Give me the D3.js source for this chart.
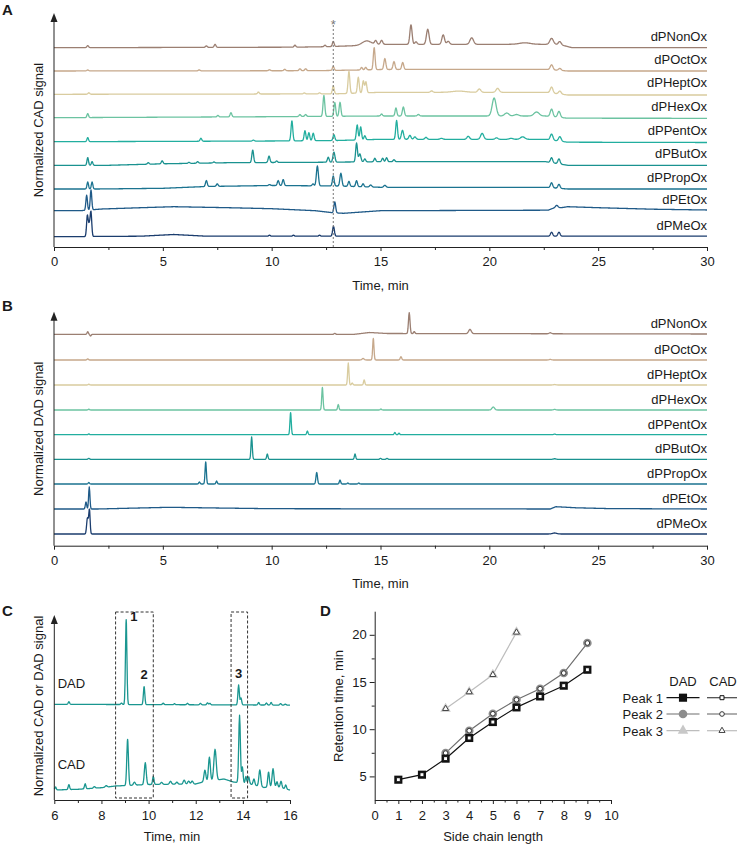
<!DOCTYPE html>
<html><head><meta charset="utf-8">
<script src="https://cdn.jsdelivr.net/npm/d3@7"></script>
<style>
body{margin:0;background:#fff;}
text{font-family:Arial,"Liberation Sans",sans-serif;fill:#1a1a1a;}
</style>
</head><body>
<svg id="chart" width="739" height="846"></svg>
<script>
// ---------------- DATA ----------------
const samples = ["dPMeOx","dPEtOx","dPPropOx","dPButOx","dPPentOx","dPHexOx","dPHeptOx","dPOctOx","dPNonOx"];
const sampleColors = ["#1b3d6e","#1f5a88","#1b7390","#1a9290","#22ae9f","#6cc3a1","#d9cc9f","#c6a88b","#9b7f72"];
const timeTicksAB = [0,5,10,15,20,25,30];
const timeMinorAB = [2.5,7.5,12.5,17.5,22.5,27.5];
const markerTime = 12.83;

// trace offsets (signal units above axis)
const cadOffset = [10.3,36.3,58,81.7,105.3,129.3,152.7,176,199.3];
const dadOffset = [11.7,36.7,61.7,86.4,111,135.7,160.7,185.7,211.4];

// CAD baseline drift knots [time, level]
const cadDriftMeOx = [[0,0],[4,0.5],[5.5,2.2],[7,0.5],[30,0.5]];
const cadDriftEtOx = [[0,0],[1.2,0],[2.2,1.7],[4,3],[5.5,4],[8,3],[10,2],[12,0],[12.8,-2],[13.3,-2.6],[15,0],[22.7,0.5],[23.05,3.5],[23.3,3],[23.6,4],[25,3],[27.5,1.5],[30,0.7]];
const cadDriftPropOx = [[0,0],[2,0],[5,0.7],[7,2.5],[10,3.5],[13,3],[15,1.7],[22.6,1.7],[23.6,0],[30,0]];
const cadDriftButOx = [[0,0],[2.5,0],[5,1.5],[8,2.6],[12,3],[15,3.6],[22.6,3.6],[23.6,0],[30,0]];
const cadDriftPentOx = [[0,0],[5,0.3],[10,0.7],[13,1.2],[15,2.4],[22.6,2.4],[23.6,-0.5],[30,-0.8]];
const cadDriftHexOx = [[0,0],[5,0.5],[10,1],[15,1.7],[22.6,1.7],[23.6,-0.5],[30,-0.6]];
const cadDriftHeptOx = [[0,0],[10,0.3],[13,0.5],[15,2],[22.6,2],[23.6,-0.7],[30,-0.7]];
const cadDriftOctOx = [[0,0],[12,0.3],[14,1],[15,1.5],[22.6,1.7],[23.6,0],[30,0]];
const cadDriftNonOx = [[0,0],[11,0.5],[12.5,1],[13.8,2],[14.8,3.4],[23.2,3.4],[23.8,0],[30,0]];

// CAD peaks [time, height, width]
const cadPeaksMeOx = [[1.53,19,0.035],[1.7,22,0.035],[1.62,12,0.05],[9.9,1,0.04],[11.0,1,0.04],[12.2,1,0.04],[12.84,10,0.04],[22.86,4,0.05],[23.2,4,0.05]];
const cadPeaksEtOx = [[1.5,15,0.035],[1.7,20,0.035],[12.9,11,0.04],[23.1,2,0.05]];
const cadPeaksPropOx = [[1.55,7,0.035],[1.75,7,0.035],[7.0,6,0.04],[7.5,2.5,0.04],[9.9,1,0.04],[10.3,5,0.04],[10.53,6,0.04],[11.9,2,0.04],[12.1,20,0.045],[12.83,10,0.04],[13.18,13,0.045],[13.55,5,0.04],[13.9,6,0.04],[14.2,3,0.04],[14.55,2,0.05],[15.2,2,0.05],[22.86,5,0.05],[23.2,4,0.05]];
const cadPeaksButOx = [[1.55,7.7,0.035],[1.75,3.7,0.035],[4.33,1.5,0.04],[4.97,3,0.04],[6.2,1,0.04],[6.6,1.5,0.04],[7.35,1,0.04],[9.13,12.5,0.04],[9.88,6.5,0.04],[10.23,1.5,0.04],[12.6,5,0.04],[12.86,10,0.045],[13.9,19,0.04],[14.05,8,0.05],[14.28,3,0.04],[14.74,3.5,0.04],[15.1,3.5,0.04],[15.28,4,0.04],[15.62,2,0.04],[22.86,5,0.05],[23.2,5,0.05]];
const cadPeaksPentOx = [[1.55,4,0.035],[6.75,3,0.04],[9.16,1,0.04],[10.93,20,0.04],[11.53,10,0.04],[11.71,8,0.04],[11.91,7.5,0.04],[12.86,6,0.04],[13.93,15,0.04],[14.09,13,0.04],[14.28,4,0.04],[15.74,19,0.04],[16.01,9,0.05],[16.35,4,0.05],[16.58,2.5,0.05],[17.09,2,0.05],[17.8,1,0.06],[19.03,3,0.06],[19.67,6,0.07],[20.33,1.5,0.06],[21.0,1,0.08],[21.53,2.5,0.1],[22.86,6,0.06],[23.24,4.5,0.06]];
const cadPeaksHexOx = [[1.55,4,0.035],[7.53,1.5,0.04],[8.13,4.2,0.04],[11.3,2,0.04],[11.56,2,0.04],[12.4,21,0.04],[12.9,14,0.04],[13.14,14,0.04],[15.05,2,0.04],[15.71,8,0.04],[16.05,9,0.045],[16.74,1.5,0.05],[20.22,18,0.09],[20.8,3,0.1],[21.25,1.5,0.1],[22.17,4,0.12],[22.86,7.5,0.06],[23.2,6,0.06]];
const cadPeaksHeptOx = [[1.6,1.5,0.04],[9.39,2,0.04],[11.5,1,0.04],[12.2,1,0.04],[12.83,8,0.04],[13.55,22,0.04],[13.98,16,0.04],[14.21,12,0.04],[14.33,11,0.04],[17.35,1.5,0.05],[18.6,1.2,0.3],[19.54,3.3,0.07],[20.38,4,0.07],[22.86,6,0.06],[23.24,3,0.06]];
const cadPeaksOctOx = [[1.55,1,0.04],[6.67,1,0.04],[9.9,1,0.04],[10.6,1.5,0.04],[11.3,2,0.04],[11.56,2,0.04],[12.83,4,0.04],[14.13,2.5,0.04],[14.32,2.5,0.04],[14.71,22,0.04],[15.2,11,0.045],[15.62,8,0.045],[16.02,7,0.045],[22.86,5,0.06],[23.24,2,0.06]];
const cadPeaksNonOx = [[1.55,2,0.04],[7.0,1.5,0.04],[7.4,3,0.04],[11.07,2,0.04],[12.45,1.5,0.04],[12.83,5,0.04],[14.36,4,0.2],[14.78,3.5,0.05],[15.05,4,0.05],[16.4,19.5,0.05],[16.63,2.5,0.05],[17.17,15,0.06],[17.88,9.5,0.06],[18.11,3,0.06],[19.19,6.5,0.08],[21.63,1.5,0.25],[22.86,6,0.08],[23.24,3,0.06]];

// DAD baseline drift knots
const dadDriftFlat = [[0,0],[30,0]];
const dadDriftEtOx = [[0,0],[2,0],[3.5,0.8],[5.3,1.7],[7.5,1],[10,0.3],[22.8,0],[23.05,2.3],[24,1.2],[25.5,0.4],[30,0]];
const dadDriftNonOx = [[0,0],[13.8,0],[14.5,1.8],[15.3,0.8],[30,0.3]];

// DAD peaks
const dadPeaksMeOx = [[1.53,13,0.035],[1.63,22,0.03],[1.58,6,0.04],[23.0,1,0.1]];
const dadPeaksEtOx = [[1.47,7,0.03],[1.62,22,0.03]];
const dadPeaksPropOx = [[1.6,1.5,0.03],[6.68,2,0.03],[6.97,22,0.03],[7.47,3,0.03],[12.07,11.5,0.035],[13.14,4,0.03],[13.5,1,0.03],[14.0,1,0.03]];
const dadPeaksButOx = [[1.6,1,0.03],[9.08,22.5,0.03],[9.8,5.3,0.03],[13.83,5.3,0.03],[15.0,1,0.03],[15.3,1,0.03],[23.0,0.6,0.05]];
const dadPeaksPentOx = [[1.6,0.8,0.03],[10.87,22,0.03],[11.64,3.7,0.03],[15.66,2.3,0.03],[15.85,1.5,0.03],[23.0,0.6,0.05]];
const dadPeaksHexOx = [[1.6,0.8,0.03],[12.33,22.5,0.03],[13.06,5.5,0.03],[15.02,1,0.03],[20.18,3,0.06],[23.0,0.6,0.05]];
const dadPeaksHeptOx = [[1.6,0.8,0.03],[13.52,22,0.03],[13.7,2,0.03],[14.25,5,0.03],[23.0,0.5,0.05]];
const dadPeaksOctOx = [[1.55,1.2,0.03],[14.2,1.5,0.05],[14.67,21.5,0.03],[15.94,3.3,0.035],[22.8,0.6,0.05]];
const dadPeaksNonOx = [[1.55,2.6,0.03],[1.68,-1.7,0.03],[12.9,1,0.03],[16.32,21,0.035],[16.55,2,0.03],[19.11,4.3,0.06],[22.8,1,0.05]];

// Panel C (dPButOx, 6-16 min)
const timeTicksC = [6,8,10,12,14,16];
const timeMinorC = [7,9,11,13,15];
const zoomDadOffset = 95.7;
const zoomDadDrift = [[6,0],[16,-0.8]];
const zoomDadPeaks = [[6.62,2.6,0.03],[8.85,1.5,0.03],[9.05,85,0.03],[9.81,18,0.03],[10.62,1.5,0.03],[11.1,1,0.03],[11.65,1.5,0.03],[12.2,1.5,0.03],[12.5,2,0.03],[12.6,1.5,0.03],[13.82,20,0.03],[13.92,7,0.03],[14.67,2.5,0.03],[15.0,2,0.03],[15.2,2.5,0.03],[15.6,1.5,0.03],[15.8,1,0.03]];
const zoomCadOffset = 0;
const zoomCadDrift = [[6,10],[7,10.7],[8,12.3],[8.6,14],[10,15.5],[12,16],[12.3,18],[12.9,20],[13.2,21],[13.6,18],[14.3,16],[14.9,12.5],[15.4,13.5],[16,10]];
const zoomCadPeaks = [[6.05,3,0.03],[6.62,5,0.03],[7.31,5,0.03],[7.7,1.5,0.04],[8.2,1.5,0.04],[9.11,46,0.035],[9.4,3,0.04],[9.86,22,0.04],[10.2,8,0.03],[10.55,2,0.04],[10.93,3,0.04],[11.2,2,0.04],[11.51,4,0.04],[11.7,3,0.04],[11.85,3,0.04],[12.39,11.5,0.04],[12.58,24,0.04],[12.82,31,0.05],[13.86,67.5,0.035],[13.98,16,0.03],[14.13,7,0.03],[14.25,7,0.03],[14.47,6,0.035],[14.72,16.5,0.04],[15.09,15,0.035],[15.28,18,0.04],[15.45,5,0.03],[15.62,6.5,0.035],[15.82,4,0.03]];
const peakBoxes = [[8.6,10.2],[13.5,14.2]];
const peakLabels = [["1",9.05,88],["2",9.81,21],["3",13.82,22]];

// Panel D
const chainLength = [1,2,3,4,5,6,7,8,9];
const rtPeak1Dad = [4.65,5.18,6.88,9.07,10.76,12.31,13.47,14.61,16.3];
const rtPeak1Cad = [4.65,5.18,6.88,9.07,10.76,12.31,13.47,14.61,16.3];
const chainLength2 = [3,4,5,6,7,8,9];
const rtPeak2Dad = [7.47,9.84,11.64,13.12,14.29,15.95,19.13];
const rtPeak2Cad = [7.47,9.84,11.64,13.12,14.29,15.95,19.13];
const chainLength3 = [3,4,5,6];
const rtPeak3Dad = [12.17,13.94,15.77,20.26];
const rtPeak3Cad = [12.17,13.94,15.77,20.26];
const chainTicks = [0,1,2,3,4,5,6,7,8,9,10];
const chainMinor = [0.5,1.5,2.5,3.5,4.5,5.5,6.5,7.5,8.5,9.5];
const rtTicks = [5,10,15,20];
const rtMinor = [7.5,12.5,17.5];
const legendRows = ["Peak 1","Peak 2","Peak 3"];
const legendHeads = ["DAD","CAD"];

const cadDrifts = [cadDriftMeOx,cadDriftEtOx,cadDriftPropOx,cadDriftButOx,cadDriftPentOx,cadDriftHexOx,cadDriftHeptOx,cadDriftOctOx,cadDriftNonOx];
const cadPeaks = [cadPeaksMeOx,cadPeaksEtOx,cadPeaksPropOx,cadPeaksButOx,cadPeaksPentOx,cadPeaksHexOx,cadPeaksHeptOx,cadPeaksOctOx,cadPeaksNonOx];
const dadDrifts = [dadDriftFlat,dadDriftEtOx,dadDriftFlat,dadDriftFlat,dadDriftFlat,dadDriftFlat,dadDriftFlat,dadDriftFlat,dadDriftNonOx];
const dadPeaks = [dadPeaksMeOx,dadPeaksEtOx,dadPeaksPropOx,dadPeaksButOx,dadPeaksPentOx,dadPeaksHexOx,dadPeaksHeptOx,dadPeaksOctOx,dadPeaksNonOx];

// ---------------- HELPERS ----------------
function buildTrace(drift, peaks, t0, t1){
  const step = 0.02;
  const ts = d3.range(t0, t1 + step/2, step).concat(peaks.map(p=>p[0])).filter(t=>t>=t0&&t<=t1).sort(d3.ascending);
  const base = d3.scaleLinear().domain(drift.map(d=>d[0])).range(drift.map(d=>d[1])).clamp(true);
  return ts.map(t => [t, base(t) + d3.sum(peaks, p => p[1]*Math.exp(-0.5*Math.pow((t-p[0])/p[2],2)))]);
}
const svg = d3.select("#chart");
const AX = "#222";

function styleAxis(g){
  g.select(".domain").attr("stroke",AX).attr("stroke-width",1);
  g.selectAll(".tick line").attr("stroke",AX);
  g.selectAll(".tick text").attr("font-size",13).attr("fill","#1a1a1a").attr("font-family","Arial, 'Liberation Sans', sans-serif");
}
function arrowAxis(x, yBottom, yTop){
  svg.append("line").attr("x1",x).attr("x2",x).attr("y1",yBottom).attr("y2",yTop+6).attr("stroke",AX).attr("stroke-width",1);
  svg.append("path").attr("d",`M${x},${yTop} L${x-3.5},${yTop+9} L${x+3.5},${yTop+9} Z`).attr("fill",AX);
}
function panelLetter(t,x,y){
  svg.append("text").attr("x",x).attr("y",y).attr("font-size",15).attr("font-weight","bold").text(t);
}
function yTitle(t,x,y){
  svg.append("text").attr("transform",`translate(${x},${y}) rotate(-90)`).attr("text-anchor","middle").attr("dy","0.35em").attr("font-size",13).text(t);
}
function xTitle(t,x,y){
  svg.append("text").attr("x",x).attr("y",y).attr("text-anchor","middle").attr("font-size",13).text(t);
}

// ---------------- PANELS A & B ----------------
const xAB = d3.scaleLinear().domain([0,30]).range([54,707]);
function stackPanel(yBottom, drifts, peaksArr, offsets, labelGap, title){
  const y = d3.scaleLinear().domain([0,234]).range([yBottom, yBottom-234]);
  samples.forEach((s,i)=>{
    const data = buildTrace(drifts[i], peaksArr[i], 0, 30);
    const line = d3.line().x(d=>xAB(d[0])).y(d=>y(offsets[i]+d[1]));
    svg.append("path").datum(data).attr("d",line).attr("fill","none")
      .attr("stroke",sampleColors[i]).attr("stroke-width",1.3).attr("stroke-linejoin","round");
    svg.append("text").attr("x",707).attr("y",y(offsets[i]+labelGap)).attr("text-anchor","end").attr("font-size",13).text(s);
  });
  const gMin = svg.append("g").attr("transform",`translate(0,${yBottom})`)
    .call(d3.axisBottom(xAB).tickValues(timeMinorAB).tickSize(3).tickFormat("").tickSizeOuter(0));
  styleAxis(gMin); gMin.select(".domain").remove();
  const g = svg.append("g").attr("transform",`translate(0,${yBottom})`)
    .call(d3.axisBottom(xAB).tickValues(timeTicksAB).tickSize(4).tickPadding(6).tickSizeOuter(0));
  styleAxis(g);
  arrowAxis(54, yBottom, yBottom-234);
  xTitle("Time, min", 380.5, yBottom+42.5);
  yTitle(title, 38, yBottom-117);
  return y;
}
const yA = stackPanel(247, cadDrifts, cadPeaks, cadOffset, 7, "Normalized CAD signal");
// marker line with asterisk
svg.append("line").attr("x1",xAB(markerTime)).attr("x2",xAB(markerTime)).attr("y1",yA(222)).attr("y2",yA(0))
  .attr("stroke","#777").attr("stroke-width",1).attr("stroke-dasharray","2,2");
svg.append("text").attr("x",xAB(markerTime)).attr("y",yA(218)).attr("text-anchor","middle").attr("font-size",13).attr("fill","#777").style("fill","#777").text("*");
stackPanel(545.7, dadDrifts, dadPeaks, dadOffset, 6, "Normalized DAD signal");
panelLetter("A",2,15);
panelLetter("B",2,311);

// ---------------- PANEL C ----------------
const xC = d3.scaleLinear().domain([6,16]).range([54.3,290]);
const yC = d3.scaleLinear().domain([0,185]).range([800,615]);
const teal = "#1a9690";
[[zoomDadDrift,zoomDadPeaks,zoomDadOffset],[zoomCadDrift,zoomCadPeaks,zoomCadOffset]].forEach(([dr,pk,off])=>{
  const data = buildTrace(dr, pk, 6, 16);
  svg.append("path").datum(data).attr("d",d3.line().x(d=>xC(d[0])).y(d=>yC(off+d[1])))
    .attr("fill","none").attr("stroke",teal).attr("stroke-width",1.3).attr("stroke-linejoin","round");
});
peakBoxes.forEach(b=>{
  svg.append("rect").attr("x",xC(b[0])).attr("y",yC(188)).attr("width",xC(b[1])-xC(b[0])).attr("height",yC(2)-yC(188))
    .attr("fill","none").attr("stroke","#333").attr("stroke-width",1).attr("stroke-dasharray","3,2");
});
peakLabels.forEach(l=>{
  svg.append("text").attr("x",xC(l[1])+(l[0]==="1"?4:0)).attr("y",yC(zoomDadOffset+l[2])-(l[0]==="1"?-5:4))
    .attr("text-anchor",l[0]==="1"?"start":"middle").attr("font-size",13).attr("font-weight","bold").text(l[0]);
});
svg.append("text").attr("x",57.7).attr("y",687.7).attr("font-size",13).text("DAD");
svg.append("text").attr("x",57.7).attr("y",769.3).attr("font-size",13).text("CAD");
{
  const gMin = svg.append("g").attr("transform","translate(0,800)")
    .call(d3.axisBottom(xC).tickValues(timeMinorC).tickSize(3).tickFormat("").tickSizeOuter(0));
  styleAxis(gMin); gMin.select(".domain").remove();
  const g = svg.append("g").attr("transform","translate(0,800)")
    .call(d3.axisBottom(xC).tickValues(timeTicksC).tickSize(4).tickPadding(7).tickSizeOuter(0));
  styleAxis(g);
}
arrowAxis(54.3, 800, 615);
xTitle("Time, min", 172, 841);
yTitle("Normalized CAD or DAD signal", 38, 706);
panelLetter("C",2,616);

// ---------------- PANEL D ----------------
const xD = d3.scaleLinear().domain([0,10]).range([374.7,611]);
const yD = d3.scaleLinear().domain([2.5,22.5]).range([800,611.2]);
{
  const gxm = svg.append("g").attr("transform","translate(0,800)")
    .call(d3.axisBottom(xD).tickValues(chainMinor).tickSize(2.5).tickFormat("").tickSizeOuter(0));
  styleAxis(gxm); gxm.select(".domain").remove();
  const gx = svg.append("g").attr("transform","translate(0,800)")
    .call(d3.axisBottom(xD).tickValues(chainTicks).tickSize(4).tickPadding(7).tickSizeOuter(0));
  styleAxis(gx);
  const gym = svg.append("g").attr("transform","translate(374.7,0)")
    .call(d3.axisLeft(yD).tickValues(rtMinor).tickSize(3).tickFormat("").tickSizeOuter(0));
  styleAxis(gym); gym.select(".domain").remove();
  const gy = svg.append("g").attr("transform","translate(374.7,0)")
    .call(d3.axisLeft(yD).tickValues(rtTicks).tickSize(5).tickPadding(3).tickSizeOuter(0));
  styleAxis(gy);
}
xTitle("Side chain length", 493, 841);
yTitle("Retention time, min", 338.5, 706);
panelLetter("D",320,616);

const seriesD = [
  {x:chainLength3, dad:rtPeak3Dad, cad:rtPeak3Cad, line:"#bdbdbd", fill:"#c8c8c8", sym:d3.symbolTriangle, big:48, small:16, cadStroke:"#444"},
  {x:chainLength2, dad:rtPeak2Dad, cad:rtPeak2Cad, line:"#6e6e6e", fill:"#8c8c8c", sym:d3.symbolCircle, big:58, small:17, cadStroke:"#333"},
  {x:chainLength, dad:rtPeak1Dad, cad:rtPeak1Cad, line:"#111", fill:"#111", sym:d3.symbolSquare, big:66, small:16, cadStroke:"#111"}
];
seriesD.forEach(s=>{
  const pts = s.x.map((c,i)=>[c,s.dad[i]]);
  svg.append("path").datum(pts).attr("d",d3.line().x(d=>xD(d[0])).y(d=>yD(d[1])))
    .attr("fill","none").attr("stroke",s.line).attr("stroke-width",1.2);
});
seriesD.forEach(s=>{
  s.x.forEach((c,i)=>{
    svg.append("path").attr("d",d3.symbol(s.sym,s.big)()).attr("transform",`translate(${xD(c)},${yD(s.dad[i])})`).attr("fill",s.fill);
    svg.append("path").attr("d",d3.symbol(s.sym,s.small)()).attr("transform",`translate(${xD(c)},${yD(s.cad[i])})`)
      .attr("fill","#fff").attr("stroke",s.cadStroke).attr("stroke-width",1);
  });
});

// legend
const legY = [697.7,714,730.7];
svg.append("text").attr("x",683).attr("y",686).attr("text-anchor","middle").attr("font-size",13).text(legendHeads[0]);
svg.append("text").attr("x",723).attr("y",686).attr("text-anchor","middle").attr("font-size",13).text(legendHeads[1]);
const legStyle = [seriesD[2],seriesD[1],seriesD[0]];
const legCadLine = ["#444","#777","#bdbdbd"];
legendRows.forEach((r,i)=>{
  const s = legStyle[i], yy = legY[i];
  svg.append("text").attr("x",663).attr("y",yy+4.8).attr("text-anchor","end").attr("font-size",13).text(r);
  svg.append("line").attr("x1",666.5).attr("x2",699.5).attr("y1",yy).attr("y2",yy).attr("stroke",s.line).attr("stroke-width",1.2);
  svg.append("path").attr("d",d3.symbol(s.sym,s.big)()).attr("transform",`translate(683,${yy})`).attr("fill",s.fill);
  svg.append("line").attr("x1",707).attr("x2",737).attr("y1",yy).attr("y2",yy).attr("stroke",legCadLine[i]).attr("stroke-width",1.2);
  svg.append("path").attr("d",d3.symbol(s.sym,s.small)()).attr("transform",`translate(722,${yy})`)
    .attr("fill","#fff").attr("stroke",s.cadStroke).attr("stroke-width",1);
});
</script>
</body></html>
